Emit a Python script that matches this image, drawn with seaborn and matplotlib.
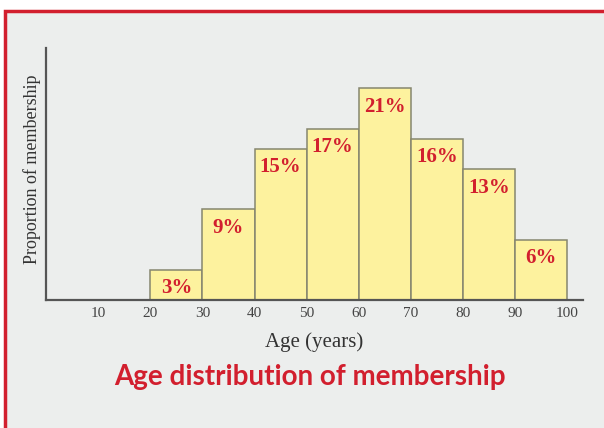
import numpy as np
import pandas as pd
import matplotlib
matplotlib.use("Agg")
import matplotlib.pyplot as plt
import matplotlib.patches as mpatches
import seaborn as sns

# data
bin_edges = [20, 30, 40, 50, 60, 70, 80, 90, 100]
share_pct = [3, 9, 15, 17, 21, 16, 13, 6]
x_ticks = [10, 20, 30, 40, 50, 60, 70, 80, 90, 100]

TITLE = "Age distribution of membership"
RED = "#d21f2e"
BG = "#eceeed"

df = pd.DataFrame({"age_start": bin_edges[:-1], "share": share_pct})

sns.set_style("white")
plt.rcParams["font.family"] = ["Liberation Serif", "DejaVu Serif"]

fig = plt.figure(figsize=(6.04, 4.28), dpi=100)
fig.patch.set_facecolor("white")

# grey panel with red top/left border
panel = mpatches.Rectangle((4.5 / 604, -0.1), 1.2, 1.1 - 10.5 / 428,
                           transform=fig.transFigure, facecolor=BG,
                           edgecolor=RED, linewidth=2.5, zorder=-10)
fig.patches.append(panel)

ax = fig.add_axes([46 / 604, 128 / 428, (583 - 46) / 604, (300 - 48) / 428])
ax.set_facecolor("none")

sns.histplot(data=df, x="age_start", weights="share", bins=bin_edges,
             color="#fdf29e", edgecolor="#86866f", linewidth=1.1,
             alpha=1, ax=ax)

for patch, val in zip(ax.patches, share_pct):
    cx = patch.get_x() + patch.get_width() / 2
    ax.text(cx, patch.get_height() - 0.85, f"{val}%", ha="center", va="top",
            color=RED, fontsize=15, fontweight="bold")

ax.set_xlim(0, 103)
ax.set_ylim(0, 25)
ax.set_xticks(x_ticks)
ax.set_xticklabels([str(t) for t in x_ticks], color="#444444", fontsize=11)
ax.set_yticks([])
ax.tick_params(axis="x", length=0, pad=5)

ax.set_xlabel("Age (years)", fontsize=15, color="#333333", labelpad=9)
ax.set_ylabel("Proportion of membership", fontsize=13, color="#333333")
ax.yaxis.set_label_coords(-0.01, 0.52)

for side in ["top", "right"]:
    ax.spines[side].set_visible(False)
for side in ["left", "bottom"]:
    ax.spines[side].set_color("#555555")
    ax.spines[side].set_linewidth(1.6)

fig.text(310 / 604, 1 - 377 / 428, TITLE, ha="center", va="center",
         color=RED, fontsize=20, fontweight="bold",
         family=["Lato", "DejaVu Sans"])

fig.savefig("out.png", dpi=100)
